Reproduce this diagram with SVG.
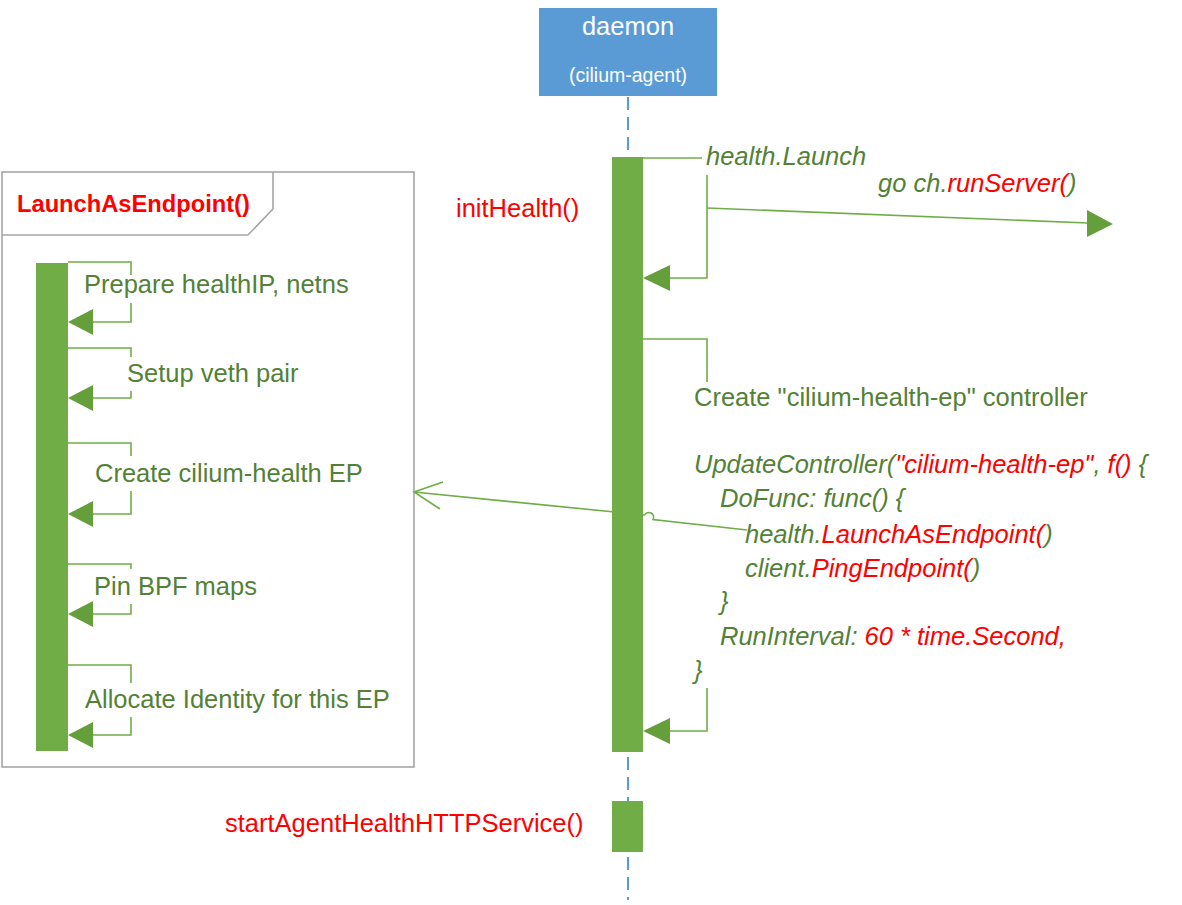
<svg xmlns="http://www.w3.org/2000/svg" width="1182" height="905" viewBox="0 0 1182 905">
<style>
text{font-family:"Liberation Sans",Arial,sans-serif;font-size:25.5px}
.g{fill:#538135}
.r{fill:#FF0000}
.it{font-style:italic}
.bar{fill:#70AD47}
.ln{fill:none;stroke:#70AD47;stroke-width:1.6}
.ah{fill:#649F3C}
.frame{fill:none;stroke:#A6A6A6;stroke-width:1.6}
.sub{font-size:19.5px}
.title{font-size:23.7px;font-weight:bold}
</style>
<rect width="1182" height="905" fill="#FFFFFF"/>

<g id="lifeline">
<line x1="628" y1="97" x2="628" y2="900" stroke="#5B9BD5" stroke-width="2" stroke-dasharray="13 7"/>
</g>

<g id="daemon">
<rect x="539" y="8" width="178" height="88" fill="#5B9BD5"/>
<text x="628" y="35" text-anchor="middle" fill="#FFFFFF">daemon</text>
<text x="628" y="82" text-anchor="middle" fill="#FFFFFF" class="sub">(cilium-agent)</text>
</g>

<g id="frame-launchasendpoint">
<rect x="2" y="172" width="412" height="595" class="frame"/>
<path d="M2,235 H248 L273,209 V172" class="frame"/>
<text x="17" y="212" class="r title">LaunchAsEndpoint()</text>
</g>

<g id="ep-activation">
<rect x="36" y="263" width="32" height="488" class="bar"/>
</g>

<g id="main-activation">
<rect x="612" y="157" width="31" height="595" class="bar"/>
</g>

<g id="http-activation">
<rect x="612" y="801" width="31" height="51" class="bar"/>
</g>

<g id="connectors">
<path d="M643,158 H702" class="ln"/>
<path d="M707,175 V278 H668" class="ln"/>
<polygon points="643,278 670,265 670,291" class="ah"/>
<path d="M707,208 L1088,223" class="ln"/>
<polygon points="1113,224 1087,210 1087,237" class="ah"/>
<path d="M643,339 H707 V382" class="ln"/>
<path d="M707,688 V731 H668" class="ln"/>
<polygon points="643,731 670,718 670,744" class="ah"/>
<path d="M747,530 L653,519.5 A4.5,4.5 0 0 0 644.5,515 L414,492" class="ln"/>
<path d="M443,482 L414,492 L440,509" class="ln"/>
<path d="M68,262 H131 V275" class="ln"/>
<path d="M131,303 V322 H91" class="ln"/>
<polygon points="68,322 93,309 93,335" class="ah"/>
<path d="M68,348 H131 V357" class="ln"/>
<path d="M131,391 V398 H91" class="ln"/>
<polygon points="68,398 93,385 93,411" class="ah"/>
<path d="M68,443 H131 V456" class="ln"/>
<path d="M131,491 V514 H91" class="ln"/>
<polygon points="68,514 93,501 93,527" class="ah"/>
<path d="M68,564 H131 V569" class="ln"/>
<path d="M131,604 V614 H91" class="ln"/>
<polygon points="68,614 93,601 93,627" class="ah"/>
<path d="M68,665 H131 V683" class="ln"/>
<path d="M131,717 V735 H91" class="ln"/>
<polygon points="68,735 93,722 93,748" class="ah"/>
</g>

<g id="labels">
<text x="456" y="217" class="r">initHealth()</text>
<text x="225" y="832" class="r">startAgentHealthHTTPService()</text>
<text x="706" y="165" class="g it">health.Launch</text>
<text x="878" y="192" class="g it">go ch.<tspan class="r">runServer(</tspan>)</text>
<text x="694" y="406" class="g">Create "cilium-health-ep" controller</text>
<text x="694" y="473" class="g it">UpdateController(<tspan class="r">"cilium-health-ep"</tspan>, <tspan class="r">f()</tspan> {</text>
<text x="720" y="507" class="g it">DoFunc: func() {</text>
<text x="745" y="543" class="g it">health.<tspan class="r">LaunchAsEndpoint(</tspan>)</text>
<text x="745" y="577" class="g it">client.<tspan class="r">PingEndpoint(</tspan>)</text>
<text x="720" y="610" class="g it">}</text>
<text x="720" y="645" class="g it">RunInterval: <tspan class="r">60 * time.Second,</tspan></text>
<text x="694" y="679" class="g it">}</text>
<text x="84" y="293" class="g">Prepare healthIP, netns</text>
<text x="127" y="382" class="g">Setup veth pair</text>
<text x="95" y="482" class="g">Create cilium-health EP</text>
<text x="94" y="595" class="g">Pin BPF maps</text>
<text x="85" y="708" class="g">Allocate Identity for this EP</text>
</g>
</svg>
